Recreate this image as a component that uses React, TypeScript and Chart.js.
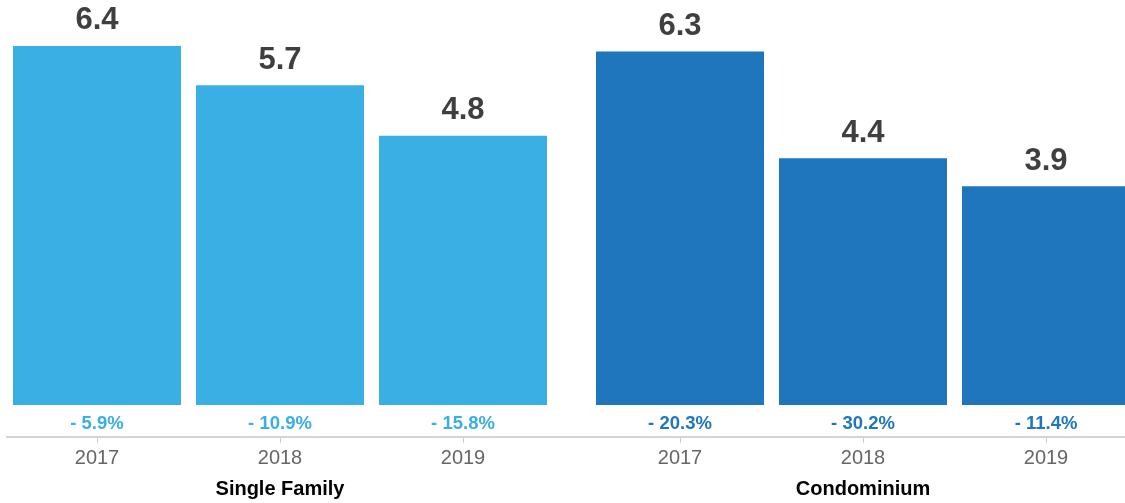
import React, { useEffect, useRef } from "react";
import { Chart, registerables } from "chart.js";

Chart.register(...registerables);

const years = ["2017", "2018", "2019"];
const singleFamilyValues = [6.4, 5.7, 4.8];
const condoValues = [6.3, 4.4, 3.9];
const singleFamilyChanges = [-5.9, -10.9, -15.8];
const condoChanges = [-20.3, -30.2, -11.4];
const groupTitles = ["Single Family", "Condominium"];
const groupColors = ["#39AFE4", "#1F76BD"];

const FONT = '"Liberation Sans", Arial, Helvetica, sans-serif';

const barLabelsPlugin = {
  id: "barLabels",
  afterDatasetsDraw(chart: any, _args: any, opts: any) {
    const { ctx } = chart;
    const meta = chart.getDatasetMeta(0);
    const base = chart.scales.y.getPixelForValue(0);
    meta.data.forEach((bar: any, i: number) => {
      const v = chart.data.datasets[0].data[i] as number;
      ctx.save();
      ctx.textAlign = "center";
      ctx.textBaseline = "middle";
      ctx.font = `bold 31px ${FONT}`;
      ctx.fillStyle = "#3f3f3f";
      ctx.fillText(v.toFixed(1), bar.x, bar.y - 25);
      ctx.font = `bold 18.5px ${FONT}`;
      ctx.fillStyle = opts.color;
      ctx.fillText(`- ${Math.abs(opts.changes[i]).toFixed(1)}%`, bar.x, base + 19);
      ctx.restore();
    });
  },
};

const axisLinePlugin = {
  id: "axisLine",
  afterDraw(chart: any, _args: any, opts: any) {
    const { ctx, chartArea, width } = chart;
    ctx.save();
    ctx.strokeStyle = "#d4d4d4";
    ctx.lineWidth = 2;
    ctx.beginPath();
    ctx.moveTo(opts.x0 ?? 0, chartArea.bottom);
    ctx.lineTo(width, chartArea.bottom);
    ctx.stroke();
    ctx.restore();
  },
};

type GroupProps = {
  values: number[];
  changes: number[];
  color: string;
  title: string;
  left: number;
  width: number;
  padLeft: number;
  padRight: number;
  lineStart: number;
};

function GroupChart(p: GroupProps) {
  const ref = useRef<HTMLCanvasElement>(null);
  useEffect(() => {
    if (!ref.current) return;
    const chart = new Chart(ref.current, {
      type: "bar",
      data: {
        labels: years,
        datasets: [
          {
            data: p.values,
            backgroundColor: p.color,
            borderWidth: 0,
            categoryPercentage: 1,
            barPercentage: 168 / 183,
          },
        ],
      },
      options: {
        animation: false,
        responsive: false,
        maintainAspectRatio: false,
        layout: { padding: { left: p.padLeft, right: p.padRight, top: 10, bottom: 0 } },
        plugins: {
          legend: { display: false },
          tooltip: { enabled: false },
          barLabels: { color: p.color, changes: p.changes },
          axisLine: { x0: p.lineStart },
        } as any,
        scales: {
          y: { display: false, min: -0.57, max: 7.04 },
          x: {
            border: { display: false },
            grid: {
              display: true,
              drawOnChartArea: false,
              drawTicks: true,
              tickLength: 6,
              offset: false,
              color: "#cccccc",
              lineWidth: 1,
            },
            ticks: {
              color: "#666666",
              padding: 3,
              font: { family: FONT, size: 20 },
            },
            title: {
              display: true,
              text: p.title,
              color: "#000000",
              font: { family: FONT, size: 20, weight: "bold" },
              padding: { top: 4, bottom: 2 },
            },
          },
        },
      },
      plugins: [barLabelsPlugin, axisLinePlugin],
    });
    return () => chart.destroy();
  }, []);
  return (
    <canvas
      ref={ref}
      width={p.width}
      height={503}
      style={{ position: "absolute", left: p.left, top: 0, width: p.width, height: 503 }}
    />
  );
}

export default function App() {
  useEffect(() => {
    document.body.style.margin = "0";
  }, []);
  return (
    <div
      style={{
        position: "fixed",
        left: 0,
        top: 0,
        width: 1125,
        height: 503,
        overflow: "hidden",
        background: "#ffffff",
      }}
    >
      <GroupChart
        values={singleFamilyValues}
        changes={singleFamilyChanges}
        color={groupColors[0]}
        title={groupTitles[0]}
        left={0}
        width={560}
        padLeft={5.5}
        padRight={5.5}
        lineStart={6}
      />
      <GroupChart
        values={condoValues}
        changes={condoChanges}
        color={groupColors[1]}
        title={groupTitles[1]}
        left={560}
        width={580}
        padLeft={28.5}
        padRight={2.5}
        lineStart={0}
      />
    </div>
  );
}
